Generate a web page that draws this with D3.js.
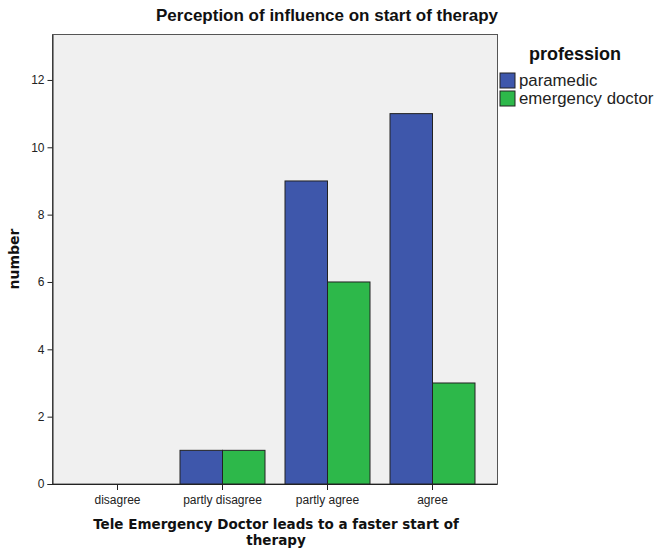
<!DOCTYPE html>
<html>
<head>
<meta charset="UTF-8">
<script src="https://d3js.org/d3.v7.min.js"></script>
<style>
  body { margin: 0; background: #fff; }
  text { font-family: "Liberation Sans", Arial, sans-serif; }
</style>
</head>
<body>
<svg></svg>
<script>
const categories = ["disagree", "partly disagree", "partly agree", "agree"];
const series = ["paramedic", "emergency doctor"];
const paramedic = [0, 1, 9, 11];
const emergencyDoctor = [0, 1, 6, 3];
const yTicks = [0, 2, 4, 6, 8, 10, 12];
const colors = ["#3e57ab", "#2db84a"];

const width = 655, height = 549;
const m = { left: 52.5, top: 34.5, right: 497.5, bottom: 484 };

const svg = d3.select("svg").attr("width", width).attr("height", height);

const x = d3.scaleBand().domain(categories).range([m.left + 12.5, m.right - 12.5]);
const xSub = d3.scaleBand().domain(series).range([10, x.bandwidth() - 10]);
const y = d3.scaleLinear().domain([0, 13.35]).range([m.bottom, m.top]);

svg.append("rect")
  .attr("x", m.left).attr("y", m.top)
  .attr("width", m.right - m.left).attr("height", m.bottom - m.top)
  .attr("fill", "#f0f0f0").attr("stroke", "#555").attr("stroke-width", 1);

const rows = categories.map((c, i) => ({ cat: c, vals: [paramedic[i], emergencyDoctor[i]] }));

svg.append("g").selectAll("g")
  .data(rows).enter().append("g")
  .attr("transform", d => "translate(" + x(d.cat) + ",0)")
  .selectAll("rect")
  .data(d => d.vals.map((v, j) => ({ s: series[j], v: v, j: j })).filter(d => d.v > 0))
  .enter().append("rect")
  .attr("x", d => xSub(d.s))
  .attr("y", d => y(d.v))
  .attr("width", xSub.bandwidth())
  .attr("height", d => y(0) - y(d.v))
  .attr("fill", d => colors[d.j])
  .attr("stroke", "#222").attr("stroke-width", 1);

// axes
const yAxis = svg.append("g")
  .attr("transform", "translate(" + m.left + ",0)")
  .call(d3.axisLeft(y).tickValues(yTicks).tickSize(5).tickSizeOuter(0).tickPadding(3).tickFormat(d3.format("d")));
yAxis.select(".domain").attr("stroke", "#222");
yAxis.selectAll("line").attr("stroke", "#222");
yAxis.selectAll("text").attr("font-size", 12).attr("fill", "#222")
  .style("font-family", "'Liberation Sans', Arial, sans-serif");

const xAxis = svg.append("g")
  .attr("transform", "translate(0," + m.bottom + ")")
  .call(d3.axisBottom(x).tickSize(6).tickPadding(5).tickSizeOuter(0));
xAxis.select(".domain").attr("stroke", "#222").attr("d", "M" + (m.left - 5) + ",0.5H" + m.right);
xAxis.selectAll("line").attr("stroke", "#222");
xAxis.selectAll("text").attr("font-size", 12).attr("fill", "#222")
  .style("font-family", "'Liberation Sans', Arial, sans-serif");

// title
svg.append("text")
  .attr("x", 327).attr("y", 21)
  .attr("text-anchor", "middle")
  .attr("font-size", 17).attr("font-weight", "bold").attr("fill", "#111")
  .text("Perception of influence on start of therapy");

// y label
svg.append("text")
  .attr("transform", "translate(19,259) rotate(-90)")
  .attr("text-anchor", "middle")
  .attr("font-size", 14).attr("font-weight", "bold").attr("fill", "#111")
  .style("font-family", "'DejaVu Sans', Verdana, sans-serif")
  .text("number");

// x label
const xl = svg.append("text")
  .attr("text-anchor", "middle")
  .attr("font-size", 13.5).attr("font-weight", "bold").attr("fill", "#111")
  .style("font-family", "'DejaVu Sans', Verdana, sans-serif");
xl.append("tspan").attr("x", 276).attr("y", 529).text("Tele Emergency Doctor leads to a faster start of");
xl.append("tspan").attr("x", 276).attr("y", 545).text("therapy");

// legend
svg.append("text")
  .attr("x", 529).attr("y", 60)
  .attr("font-size", 18).attr("font-weight", "bold").attr("fill", "#111")
  .text("profession");

const leg = svg.append("g").selectAll("g")
  .data(series).enter().append("g")
  .attr("transform", (d, i) => "translate(500," + (73 + i * 18) + ")");
leg.append("rect")
  .attr("width", 15).attr("height", 15)
  .attr("fill", (d, i) => colors[i])
  .attr("stroke", "#222").attr("stroke-width", 1);
leg.append("text")
  .attr("x", 19).attr("y", 13)
  .attr("font-size", 16.8).attr("fill", "#222")
  .text(d => d);
</script>
</body>
</html>
